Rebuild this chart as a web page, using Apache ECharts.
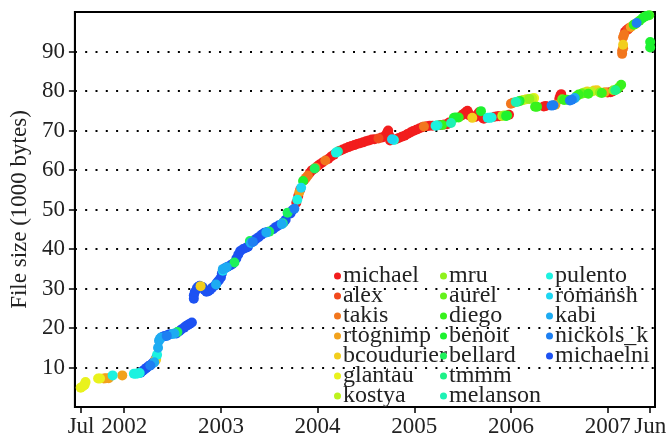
<!DOCTYPE html>
<html>
<head>
<meta charset="utf-8">
<script src="https://cdn.jsdelivr.net/npm/echarts@6/dist/echarts.min.js"></script>
<style>
  html, body { margin: 0; padding: 0; background: #fff; }
  #chart { width: 670px; height: 439px; }
</style>
</head>
<body>
<div id="chart"></div>
<script>
// authors in legend order, hue goes red -> blue
const authors = ['michael', 'alex', 'takis', 'rtognimp', 'bcoudurier', 'glantau', 'kostya',
  'mru', 'aurel', 'diego', 'benoit', 'bellard', 'tmmm', 'melanson',
  'pulento', 'romansh', 'kabi', 'nickols_k', 'michaelni'];
const colors = ['#F21D1D', '#F2491D', '#F2761D', '#F2A21D', '#F2CE1D', '#E9F21D', '#BDF21D',
  '#90F21D', '#64F21D', '#38F21D', '#1DF22F', '#1DF25B', '#1DF288', '#1DF2B4',
  '#1DF2E0', '#1DD7F2', '#1DABF2', '#1D7FF2', '#1D52F2'];

// x tick positions (decimal year) and their labels
const xTickValues = [2001.554, 2002, 2003, 2004, 2005, 2006, 2007, 2007.44];
const xTickLabels = ['Jul', '2002', '2003', '2004', '2005', '2006', '2007', 'Jun'];
const yTickValues = [10, 20, 30, 40, 50, 60, 70, 80, 90];

// [decimal year, file size in 1000 bytes]
const michaelni = [
  [2002.17, 8.7], [2002.19, 9.1], [2002.21, 9.5], [2002.23, 9.9], [2002.25, 10.3], [2002.27, 10.6],
  [2002.29, 11.0], [2002.31, 11.6], [2002.33, 12.4], [2002.40, 17.8], [2002.42, 18.0], [2002.45, 18.2],
  [2002.47, 18.4], [2002.54, 18.6], [2002.57, 19.2], [2002.59, 19.6], [2002.62, 20.1], [2002.64, 20.5],
  [2002.66, 20.8], [2002.68, 21.1], [2002.70, 21.4],
  [2002.72, 27.4], [2002.72, 28.3], [2002.73, 29.1], [2002.75, 29.9], [2002.76, 30.4], [2002.78, 30.7],
  [2002.81, 30.4], [2002.83, 29.6], [2002.85, 29.2], [2002.87, 29.3], [2002.89, 29.7], [2002.91, 30.2],
  [2002.94, 30.8], [2002.96, 31.5], [2002.98, 32.1], [2003.00, 32.8], [2003.01, 33.8], [2003.04, 35.1],
  [2003.07, 35.5], [2003.10, 35.9], [2003.12, 36.2], [2003.16, 37.6], [2003.18, 38.6], [2003.20, 39.5],
  [2003.23, 40.0], [2003.26, 40.3], [2003.28, 40.6], [2003.34, 42.0], [2003.36, 42.5], [2003.39, 43.0],
  [2003.42, 43.6], [2003.45, 44.1], [2003.48, 44.3], [2003.54, 45.0], [2003.57, 45.6], [2003.60, 46.0],
  [2003.65, 46.8], [2003.67, 47.4], [2003.72, 49.0], [2003.74, 49.8]
];
const michael = [
  [2003.78, 51.7], [2003.80, 53.4], [2003.82, 55.0], [2003.86, 57.4], [2003.92, 59.3], [2003.94, 59.9],
  [2003.96, 60.2], [2004.00, 61.0], [2004.02, 61.4], [2004.05, 61.9], [2004.11, 62.8], [2004.14, 63.4],
  [2004.17, 63.9], [2004.23, 64.9], [2004.26, 65.2], [2004.29, 65.5], [2004.32, 65.8], [2004.35, 66.1],
  [2004.38, 66.3], [2004.41, 66.6], [2004.44, 66.8], [2004.47, 67.0], [2004.50, 67.3], [2004.53, 67.5],
  [2004.56, 67.7], [2004.59, 67.8], [2004.66, 68.2], [2004.69, 68.5], [2004.71, 68.9], [2004.72, 69.5],
  [2004.73, 70.0], [2004.74, 68.8], [2004.75, 67.5], [2004.81, 67.8], [2004.84, 68.1], [2004.87, 68.4],
  [2004.90, 68.7], [2004.93, 69.1], [2004.96, 69.5], [2004.99, 69.9], [2005.02, 70.2], [2005.05, 70.5],
  [2005.08, 70.8], [2005.13, 71.1], [2005.16, 71.2], [2005.19, 71.2], [2005.27, 71.4], [2005.31, 71.5],
  [2005.34, 71.6], [2005.36, 72.0], [2005.49, 73.8], [2005.51, 74.2], [2005.53, 74.6], [2005.55, 75.0],
  [2005.56, 74.4], [2005.57, 73.8], [2005.63, 73.4], [2005.65, 74.0], [2005.67, 74.6], [2005.71, 73.2],
  [2005.72, 73.0], [2005.83, 73.5], [2005.86, 73.6], [2005.88, 73.6], [2005.98, 74.0],
  [2006.34, 76.1], [2006.36, 76.2], [2006.50, 78.0], [2006.51, 78.8], [2006.52, 79.2],
  [2007.00, 79.6], [2007.03, 79.7], [2007.05, 79.9], [2007.18, 95.0], [2007.20, 95.5], [2007.22, 95.9]
];
const alex = [[2004.63, 68.0], [2007.21, 95.6]];
const takis = [
  [2003.88, 58.0], [2003.90, 58.6], [2003.98, 60.6], [2004.08, 62.4], [2005.10, 71.0],
  [2006.00, 76.8], [2006.02, 77.0], [2007.15, 89.4], [2007.15, 90.2], [2007.16, 90.8],
  [2007.16, 93.6], [2007.17, 94.3]
];
const rtognimp = [
  [2001.79, 7.2], [2001.81, 7.3], [2001.84, 7.3], [2001.98, 8.0], [2002.32, 11.8], [2003.81, 54.3],
  [2006.46, 76.5], [2006.97, 79.7], [2007.24, 96.2]
];
const bcoudurier = [
  [2002.33, 12.0], [2002.79, 30.6], [2005.60, 73.2], [2006.11, 77.6], [2006.16, 77.9],
  [2006.79, 79.9], [2006.86, 80.1], [2006.89, 80.2], [2007.16, 91.7], [2007.29, 97.0]
];
const glantau = [
  [2001.55, 4.9], [2001.57, 5.2], [2001.59, 5.6], [2001.60, 6.3], [2001.73, 7.2], [2001.75, 7.2],
  [2006.24, 78.2]
];
const kostya = [
  [2005.91, 73.7], [2006.13, 77.7], [2006.22, 78.1], [2006.76, 79.6], [2006.83, 79.8],
  [2007.12, 81.0], [2007.28, 96.9]
];
const mru = [[2005.93, 73.8], [2006.19, 78.0], [2006.74, 79.4], [2006.92, 79.6], [2007.06, 80.2]];
const aurel = [[2006.53, 77.9], [2006.73, 79.3], [2007.38, 98.8]];
const diego = [
  [2005.29, 71.4], [2005.46, 73.3], [2005.96, 73.8], [2006.25, 76.0], [2006.27, 76.0], [2006.55, 77.7],
  [2006.58, 77.8], [2006.68, 78.7], [2006.70, 79.1], [2006.80, 79.3], [2006.94, 79.5], [2007.10, 80.5],
  [2007.14, 81.6], [2007.27, 96.8], [2007.33, 97.8], [2007.43, 99.2]
];
const benoit = [
  [2003.85, 57.2], [2005.41, 73.2], [2005.43, 73.3], [2005.69, 74.9], [2005.95, 73.7], [2006.09, 77.5],
  [2007.36, 98.4], [2007.40, 99.0], [2007.44, 92.4], [2007.44, 91.0]
];
const bellard = [
  [2002.55, 19.0], [2003.14, 36.6], [2003.30, 42.0], [2003.50, 44.4], [2003.69, 49.2], [2003.97, 60.4],
  [2006.07, 77.3]
];
const tmmm = [[2003.64, 46.5], [2007.08, 80.2]];
const melanson = [[2004.21, 64.7], [2005.24, 71.3], [2005.38, 71.9], [2006.05, 77.2]];
const pulento = [
  [2001.88, 8.0], [2002.10, 8.4], [2002.12, 8.4], [2002.14, 8.5], [2002.16, 8.6], [2002.34, 13.2],
  [2003.79, 52.5], [2004.19, 64.4], [2004.79, 67.6], [2005.22, 71.2], [2005.76, 73.2], [2005.78, 73.2],
  [2005.80, 73.3]
];
const romansh = [[2003.02, 34.5], [2003.83, 55.5], [2004.77, 67.8]];
const kabi = [
  [2002.31, 11.3], [2002.35, 15.0], [2002.36, 16.8], [2002.37, 17.3], [2002.38, 17.6], [2002.50, 18.5],
  [2002.52, 18.6], [2002.95, 31.0], [2003.02, 34.9], [2003.06, 35.4], [2003.31, 41.5], [2003.47, 44.2],
  [2003.63, 46.3], [2006.66, 78.2]
];
const nickols_k = [
  [2002.27, 10.5], [2002.44, 18.0], [2003.33, 41.8], [2003.76, 50.2], [2006.42, 76.3], [2006.44, 76.4],
  [2006.61, 77.6], [2006.63, 77.8], [2007.30, 97.2]
];

const pointsByAuthor = {
  michael, alex, takis, rtognimp, bcoudurier, glantau, kostya, mru, aurel, diego,
  benoit, bellard, tmmm, melanson, pulento, romansh, kabi, nickols_k, michaelni
};

// big contributors first so the small ones stay visible on top
const drawOrder = ['michaelni', 'michael'].concat(authors.filter((a) => a !== 'michaelni' && a !== 'michael'));

const font = 'Liberation Serif';

const series = drawOrder.map((name) => ({
  name,
  type: 'scatter',
  data: pointsByAuthor[name],
  symbol: 'circle',
  symbolSize: 10,
  itemStyle: { color: colors[authors.indexOf(name)], opacity: 1 },
  emphasis: { disabled: true },
}));

const legendColumn = (names, left) => ({
  data: names,
  orient: 'vertical',
  left,
  top: 264,
  padding: 0,
  itemGap: -4,
  itemWidth: 7,
  itemHeight: 7,
  icon: 'circle',
  selectedMode: false,
  textStyle: { fontFamily: font, fontSize: 24, color: '#222', padding: [0, 0, 0, -3] },
});

const chart = echarts.init(document.getElementById('chart'));

chart.setOption({
  animation: false,
  backgroundColor: '#fff',
  grid: {
    left: 73,
    right: 15,
    top: 12,
    bottom: 32,
    show: true,
    borderColor: '#000',
    borderWidth: 2,
  },
  legend: [
    legendColumn(authors.slice(0, 7), 334),
    legendColumn(authors.slice(7, 14), 440),
    legendColumn(authors.slice(14), 546),
  ],
  xAxis: {
    type: 'value',
    min: 2001.49,
    max: 2007.49,
    axisLine: { lineStyle: { color: '#000', width: 2 } },
    axisTick: { customValues: xTickValues, length: 6, lineStyle: { color: '#000', width: 1.5 } },
    axisLabel: {
      customValues: xTickValues,
      margin: 8,
      fontFamily: font,
      fontSize: 23,
      color: '#222',
      formatter: (v) => {
        let best = 0;
        xTickValues.forEach((t, i) => {
          if (Math.abs(t - v) < Math.abs(xTickValues[best] - v)) best = i;
        });
        return xTickLabels[best];
      },
    },
    splitLine: { show: false },
  },
  yAxis: {
    type: 'value',
    min: 0,
    max: 100,
    interval: 10,
    name: 'File size (1000 bytes)',
    nameLocation: 'middle',
    nameGap: 42,
    nameTextStyle: { fontFamily: font, fontSize: 23, color: '#222' },
    axisLine: { lineStyle: { color: '#000', width: 2 } },
    axisTick: { customValues: yTickValues, length: 6, lineStyle: { color: '#000', width: 1.5 } },
    axisLabel: { customValues: yTickValues, margin: 10, fontFamily: font, fontSize: 23, color: '#222' },
    splitLine: { show: true, lineStyle: { color: '#000', width: 1.8, type: [2, 8.3] } },
  },
  series,
});
</script>
</body>
</html>
